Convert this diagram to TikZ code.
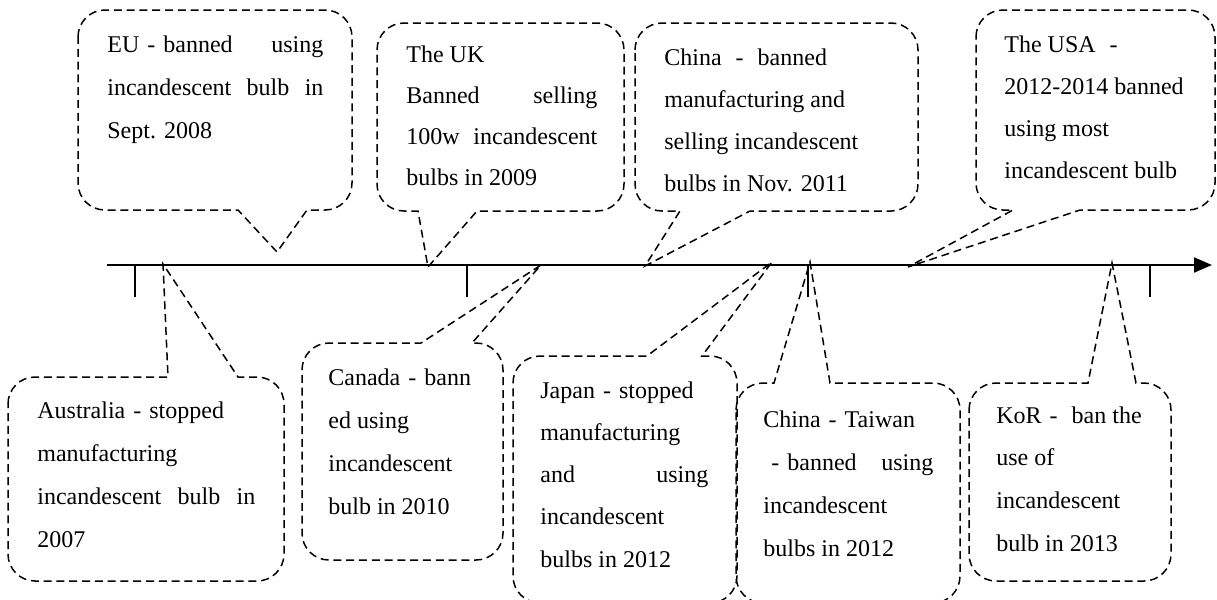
\documentclass[tikz,border=0pt]{standalone}
\usepackage{fontspec}
\setmainfont{Liberation Serif}
\usetikzlibrary{arrows.meta}

% justified line of a given width (pt) and the short spaced dash
\newcommand\jl[2]{\makebox[#1pt][s]{#2}}
\newcommand\dd{\makebox[1em]{-}}

% rounded callout, wedge on the lower edge:
% #1,#2 top-left  #3,#4 bottom-right  #5,#6 wedge base  #7 wedge tip
\newcommand\wedgedown[7]{%
  \draw[callout] (#1,#2+27) to[out=90,in=180] (#1+27,#2) -- (#3-27,#2)
    to[out=0,in=90] (#3,#2+27) -- (#3,#4-27) to[out=270,in=0] (#3-27,#4)
    -- (#6,#4) -- (#7) -- (#5,#4) -- (#1+27,#4)
    to[out=180,in=270] (#1,#4-27) -- cycle;}
% rounded callout, wedge on the upper edge
\newcommand\wedgeup[7]{%
  \draw[callout] (#1,#2+27) to[out=90,in=180] (#1+27,#2)
    -- (#5,#2) -- (#7) -- (#6,#2) -- (#3-27,#2)
    to[out=0,in=90] (#3,#2+27) -- (#3,#4-27) to[out=270,in=0] (#3-27,#4)
    -- (#1+27,#4) to[out=180,in=270] (#1,#4-27) -- cycle;}

\begin{document}
\begin{tikzpicture}[x=0.5pt,y=-0.5pt,
  callout/.style={line width=0.75pt, dash pattern=on 4pt off 2.4pt},
  axis/.style={line width=1.1pt, -{Triangle[length=9pt,width=7.5pt]}},
  tick/.style={line width=0.9pt},
  txt/.style={anchor=base west, inner sep=0pt, font=\fontsize{12pt}{14pt}\selectfont}]
\useasboundingbox (0,0) rectangle (1217,600);
\clip (0,0) rectangle (1217,600);

% time axis and its ticks
\coordinate (axis-start) at (107,265);
\coordinate (axis-end) at (1212,265);
\draw[axis] (axis-start) -- (axis-end);
\foreach \x [count=\k] in {135,467,808,1150}{
  \coordinate (tick-\k) at (\x,265);
  \draw[tick] (tick-\k) -- ++(0,32);
}

% wedge tips
\coordinate (tip-eu)  at (277,252);
\coordinate (tip-uk)  at (428,267);
\coordinate (tip-cn)  at (645,266);
\coordinate (tip-us)  at (908,267);
\coordinate (tip-au)  at (163,264);
\coordinate (tip-ca)  at (541,265);
\coordinate (tip-jp)  at (772,262);
\coordinate (tip-tw)  at (810,262);
\coordinate (tip-kr)  at (1112,263);

% callouts above the axis
\wedgedown{78}{10}{352}{210}{238}{307}{tip-eu}
\wedgedown{377}{23}{624}{211}{418}{477}{tip-uk}
\wedgedown{635}{23}{918}{211}{680}{750}{tip-cn}
\wedgedown{976}{10}{1215}{210}{1013}{1080}{tip-us}

% callouts below the axis
\wedgeup{8}{377}{284}{581}{168}{238}{tip-au}
\wedgeup{302}{343}{503}{560}{421}{472}{tip-ca}
\wedgeup{513}{356}{737}{603}{647}{702}{tip-jp}
\wedgeup{736}{383}{960}{603}{774}{830}{tip-tw}
\wedgeup{969}{383}{1171}{581}{1088}{1136}{tip-kr}

% texts
\foreach \t [count=\i] in {{\jl{108}{EU\dd banned using}},
    {\jl{108}{incandescent bulb in}}, {Sept. 2008}}
  \node[txt] (eu-\i) at (107,{52+43*(\i-1)}) {\t};
\foreach \t [count=\i] in {{The UK}, {\jl{95.5}{Banned selling}},
    {\jl{95.5}{100w incandescent}}, {bulbs in 2009}}
  \node[txt] (uk-\i) at (406,{62+41.3*(\i-1)}) {\t};
\foreach \t [count=\i] in {{China \dd\ banned}, {manufacturing and},
    {selling incandescent}, {bulbs in Nov. 2011}}
  \node[txt] (cn-\i) at (664,{65+42.3*(\i-1)}) {\t};
\foreach \t [count=\i] in {{The USA \dd}, {2012-2014 banned},
    {using most}, {incandescent bulb}}
  \node[txt] (us-\i) at (1004,{52+42*(\i-1)}) {\t};
\foreach \t [count=\i] in {{Australia\dd stopped}, {manufacturing},
    {\jl{109}{incandescent bulb in}}, {2007}}
  \node[txt] (au-\i) at (37,{418+43*(\i-1)}) {\t};
\foreach \t [count=\i] in {{Canada\dd bann}, {ed using},
    {incandescent}, {bulb in 2010}}
  \node[txt] (ca-\i) at (328,{385+43*(\i-1)}) {\t};
\foreach \t [count=\i] in {{Japan\dd stopped}, {manufacturing},
    {\jl{84}{and using}}, {incandescent}, {bulbs in 2012}}
  \node[txt] (jp-\i) at (540,{398+42.3*(\i-1)}) {\t};
\foreach \t [count=\i] in {{China\dd Taiwan}, {\jl{85}{\dd banned using}},
    {incandescent}, {bulbs in 2012}}
  \node[txt] (tw-\i) at (763,{427+43*(\i-1)}) {\t};
\foreach \t [count=\i] in {{KoR\dd\ ban the}, {use of},
    {incandescent}, {bulb in 2013}}
  \node[txt] (kr-\i) at (996,{423+42.7*(\i-1)}) {\t};
\end{tikzpicture}
\end{document}
